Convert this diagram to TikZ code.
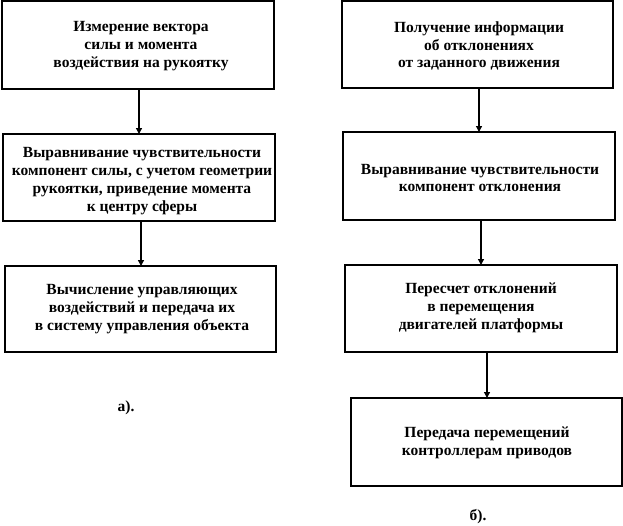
\documentclass[tikz,border=0pt]{standalone}
\usepackage{fontspec}
\setmainfont{Liberation Serif}
\usetikzlibrary{arrows.meta}
\begin{document}
\begin{tikzpicture}[x=1pt,y=-1pt,
  box/.style={draw=black,line width=1.3pt},
  txt/.style={align=center,font=\bfseries\fontsize{15.5}{17.8}\selectfont,inner sep=0pt},
  arr/.style={line width=1.3pt,-{Triangle[length=6pt,width=6pt]}}]
\useasboundingbox (0,0) rectangle (623,525);
% left column
\draw[box] (2,1) rectangle (274,89);
\node[txt] (l1) at (141,46) {Измерение вектора\\силы и момента\\воздействия на рукоятку};
\draw[box] (3,134) rectangle (275,221);
\node[txt] (l2) at (142,181) {Выравнивание чувствительности\\компонент силы, с учетом геометрии\\рукоятки, приведение момента\\к центру сферы};
\draw[box] (5,266) rectangle (276,352);
\node[txt] (l3) at (142,309) {Вычисление управляющих\\воздействий и передача их\\в систему управления объекта};
\coordinate (l1b) at (139,89); \coordinate (l2t) at (139,134);
\coordinate (l2b) at (141,221); \coordinate (l3t) at (141,266);
\draw[arr] (l1b) -- (l2t);
\draw[arr] (l2b) -- (l3t);
\node[txt] (la) at (126,408) {а).};
% right column
\draw[box] (342,1) rectangle (613,88);
\node[txt] (r1) at (479,46) {Получение информации\\об отклонениях\\от заданного движения};
\draw[box] (343,132) rectangle (615,220);
\node[txt] (r2) at (480,178) {Выравнивание чувствительности\\компонент отклонения};
\draw[box] (345,265) rectangle (617,352);
\node[txt] (r3) at (481,308) {Пересчет отклонений\\в перемещения\\двигателей платформы};
\draw[box] (351,398) rectangle (622,486);
\node[txt] (r4) at (487,443) {Передача перемещений\\контроллерам приводов};
\coordinate (r1b) at (479,88); \coordinate (r2t) at (479,132);
\coordinate (r2b) at (481,220); \coordinate (r3t) at (481,265);
\coordinate (r3b) at (487,352); \coordinate (r4t) at (487,398);
\draw[arr] (r1b) -- (r2t);
\draw[arr] (r2b) -- (r3t);
\draw[arr] (r3b) -- (r4t);
\node[txt] (rb) at (478,517) {б).};
\end{tikzpicture}
\end{document}
